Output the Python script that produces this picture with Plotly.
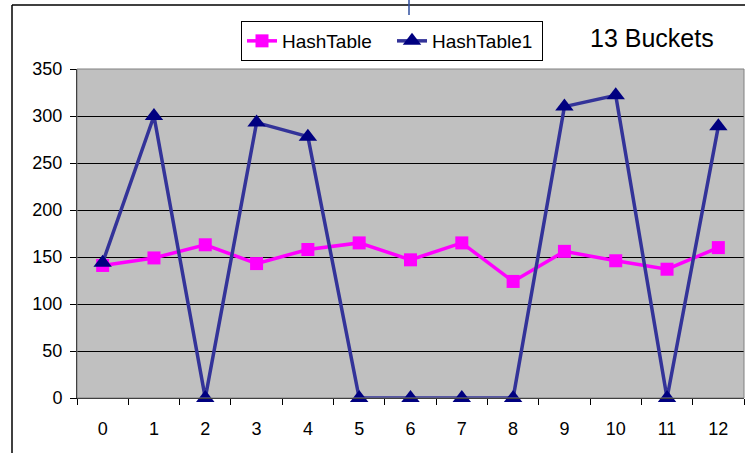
import plotly.graph_objects as go

buckets = [str(i) for i in range(13)]
hash_table = [141, 149, 163, 143, 158, 165, 147, 165, 124, 156, 146, 137, 160]
hash_table1 = [144, 300, 0, 293, 278, 0, 0, 0, 0, 310, 322, 0, 289]
y_ticks = [0, 50, 100, 150, 200, 250, 300, 350]

W, H = 745, 453
L, R, T, B = 77, 1, 69, 55
pw, ph = W - L - R, H - T - B

def px(x):
    return (x - L) / pw

def py(y):
    return (H - B - y) / ph

fig = go.Figure()
fig.add_trace(go.Scatter(
    x=buckets, y=hash_table, name="HashTable", mode="lines+markers",
    line=dict(color="#FF00FF", width=3.5),
    marker=dict(symbol="square", size=13, color="#FF00FF"),
    cliponaxis=False,
))
fig.add_trace(go.Scatter(
    x=buckets, y=hash_table1, name="HashTable1", mode="lines+markers",
    line=dict(color="#333399", width=3.5),
    marker=dict(symbol="triangle-up", size=16, color="#000080"),
    cliponaxis=False,
))

shapes = [
    dict(type="rect", xref="paper", yref="paper", x0=0, x1=1, y0=0, y1=1,
         line=dict(color="#808080", width=1), layer="above"),
    dict(type="line", xref="paper", yref="paper", x0=px(12), x1=px(12),
         y0=py(5), y1=py(H), line=dict(color="black", width=1.5)),
    dict(type="line", xref="paper", yref="paper", x0=px(12), x1=px(W),
         y0=py(5), y1=py(5), line=dict(color="black", width=1.5)),
    dict(type="line", xref="paper", yref="paper", x0=px(409), x1=px(409),
         y0=py(0), y1=py(15), line=dict(color="#2F4F9F", width=1.5)),
]

fig.update_layout(
    width=W, height=H,
    margin=dict(l=L, r=R, t=T, b=B, autoexpand=False),
    paper_bgcolor="white",
    plot_bgcolor="#C0C0C0",
    font=dict(family="Liberation Sans, Arial, sans-serif", size=18, color="black"),
    showlegend=True,
    legend=dict(
        orientation="h", x=px(241), y=py(21), xanchor="left", yanchor="top",
        bgcolor="white", bordercolor="black", borderwidth=1,
        font=dict(size=19), itemwidth=30, tracegroupgap=0,
        entrywidth=105, entrywidthmode="pixels",
    ),
    shapes=shapes,
    annotations=[dict(
        text="13 Buckets", xref="paper", yref="paper", x=px(652), y=py(38),
        xanchor="center", yanchor="middle", showarrow=False,
        font=dict(size=25, color="black"),
    )],
)
fig.update_xaxes(
    type="category", range=[-0.5, 12.5], tickson="boundaries",
    ticks="outside", ticklen=6, tickcolor="black", tickwidth=1,
    showline=True, linecolor="black", linewidth=1, showgrid=False,
    zeroline=False, ticklabelstandoff=14, automargin=False,
)
fig.update_yaxes(
    range=[0, 350], tickvals=y_ticks, ticks="outside", ticklen=6,
    tickcolor="black", showline=True, linecolor="black", linewidth=1,
    showgrid=True, gridcolor="black", gridwidth=1, zeroline=False,
    ticklabelstandoff=4, automargin=False,
)

fig.write_html(
    "out.html",
    config={"displayModeBar": False},
    post_script="document.body.style.margin='0';document.body.style.overflow='hidden';",
)
